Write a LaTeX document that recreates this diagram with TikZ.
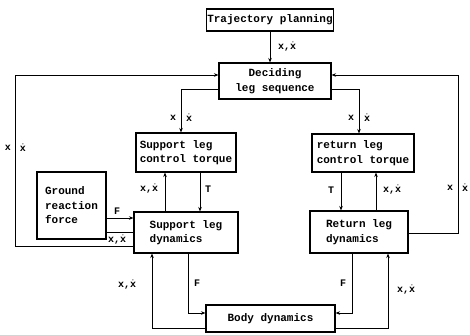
\documentclass[tikz,border=0pt]{standalone}
\usepackage{fontspec}
\setmainfont{Liberation Mono}
\usetikzlibrary{arrows.meta}
\newcommand\xdot{\ensuremath{\dot{\mbox{x}}}}
\begin{document}
\begin{tikzpicture}[x=1pt,y=-1pt,
  box/.style={draw, line width=1.1pt, inner sep=1pt, font=\bfseries\fontsize{11}{14.5}\selectfont, align=left},
  lab/.style={font=\bfseries\fontsize{10}{12}\selectfont, inner sep=0pt},
  arr/.style={line width=0.9pt, -{Stealth[length=4.5pt,width=3.5pt]}},
  ln/.style={line width=0.9pt}]
\useasboundingbox (0,0) rectangle (470,334);
% boxes
\node[box, minimum width=126pt, minimum height=22pt] (traj) at (270,20) {Trajectory planning};
\node[box, align=center, minimum width=112pt, minimum height=36pt] (dec) at (275,81) {Deciding\\leg sequence};
\node[box, minimum width=100pt, minimum height=39pt] (slct) at (186,152.5) {Support leg\\control torque};
\node[box, minimum width=104pt, minimum height=41pt] (sld) at (186,232.5) {Support leg\\dynamics};
\node[box, minimum width=69pt, minimum height=67pt] (grf) at (71.5,205.5) {Ground\\reaction\\force};
\node[box, minimum width=102pt, minimum height=38pt] (rlct) at (363,153) {return leg\\control torque};
\node[box, minimum width=98pt, minimum height=42pt] (rld) at (359,232) {Return leg\\dynamics};
\node[box, minimum width=129pt, minimum height=27pt] (body) at (270.5,318.5) {Body dynamics};
% coordinates for loops
\coordinate (lc) at (15,75);
\coordinate (rc) at (458,75);
% connectors
\draw[arr] (traj.south) -- (traj.south |- dec.north);
\node[lab] (l1) at (287,47) {x,\xdot};

\draw[arr] ([yshift=-8pt]dec.west) -| ([xshift=-5pt]slct.north);
\node[lab] (l2) at (173,118) {x};
\node[lab] (l3) at (189,118) {\xdot};
\draw[arr] ([yshift=-8pt]dec.east) -| ([xshift=-4pt]rlct.north);
\node[lab] (l4) at (351,118) {x};
\node[lab] (l5) at (367,118) {\xdot};

\draw[arr] ([yshift=-13.5pt]sld.west) -| (lc) -- ([yshift=6pt]dec.west);
\node[lab] (l6) at (8,148) {x};
\node[lab] (l7) at (23,148) {\xdot};
\draw[arr] ([yshift=-1pt]rld.east) -| (rc) -- ([yshift=6pt]dec.east);
\node[lab] (l8) at (450,188) {x};
\node[lab] (l9) at (465,188) {\xdot};

\draw[arr] ([yshift=-12.5pt]grf.east) coordinate (g1) -- (g1 -| sld.west);
\node[lab] (l10) at (117,211) {F};
\draw[ln] ([yshift=-26.5pt]grf.east) coordinate (g2) -- (g2 -| sld.west);
\node[lab] (l11) at (117,239.5) {x,\xdot};

\draw[arr] ([xshift=-21pt]sld.north) -- ([xshift=-21pt]slct.south);
\node[lab] (l12) at (149,189) {x,\xdot};
\draw[arr] ([xshift=14pt]slct.south) -- ([xshift=14pt]sld.north);
\node[lab] (l13) at (208,189) {T};

\draw[arr] ([xshift=-22pt]rlct.south) coordinate (r1) -- (r1 |- rld.north);
\node[lab] (l14) at (331,190) {T};
\draw[arr] ([xshift=17pt]rld.north) coordinate (r2) -- (r2 |- rlct.south);
\node[lab] (l15) at (392,190) {x,\xdot};

\draw[arr] ([yshift=-9.5pt]body.west) -| ([xshift=-34pt]sld.south);
\node[lab] (l16) at (127,285) {x,\xdot};
\draw[arr] ([xshift=2pt]sld.south) |- ([yshift=5.5pt]body.west);
\node[lab] (l17) at (197,283) {F};

\draw[arr] ([xshift=-7pt]rld.south) |- ([yshift=5.5pt]body.east);
\node[lab] (l18) at (343,283) {F};
\draw[arr] ([yshift=-9.5pt]body.east) -| ([xshift=29pt]rld.south);
\node[lab] (l19) at (406,290) {x,\xdot};
\end{tikzpicture}
\end{document}
